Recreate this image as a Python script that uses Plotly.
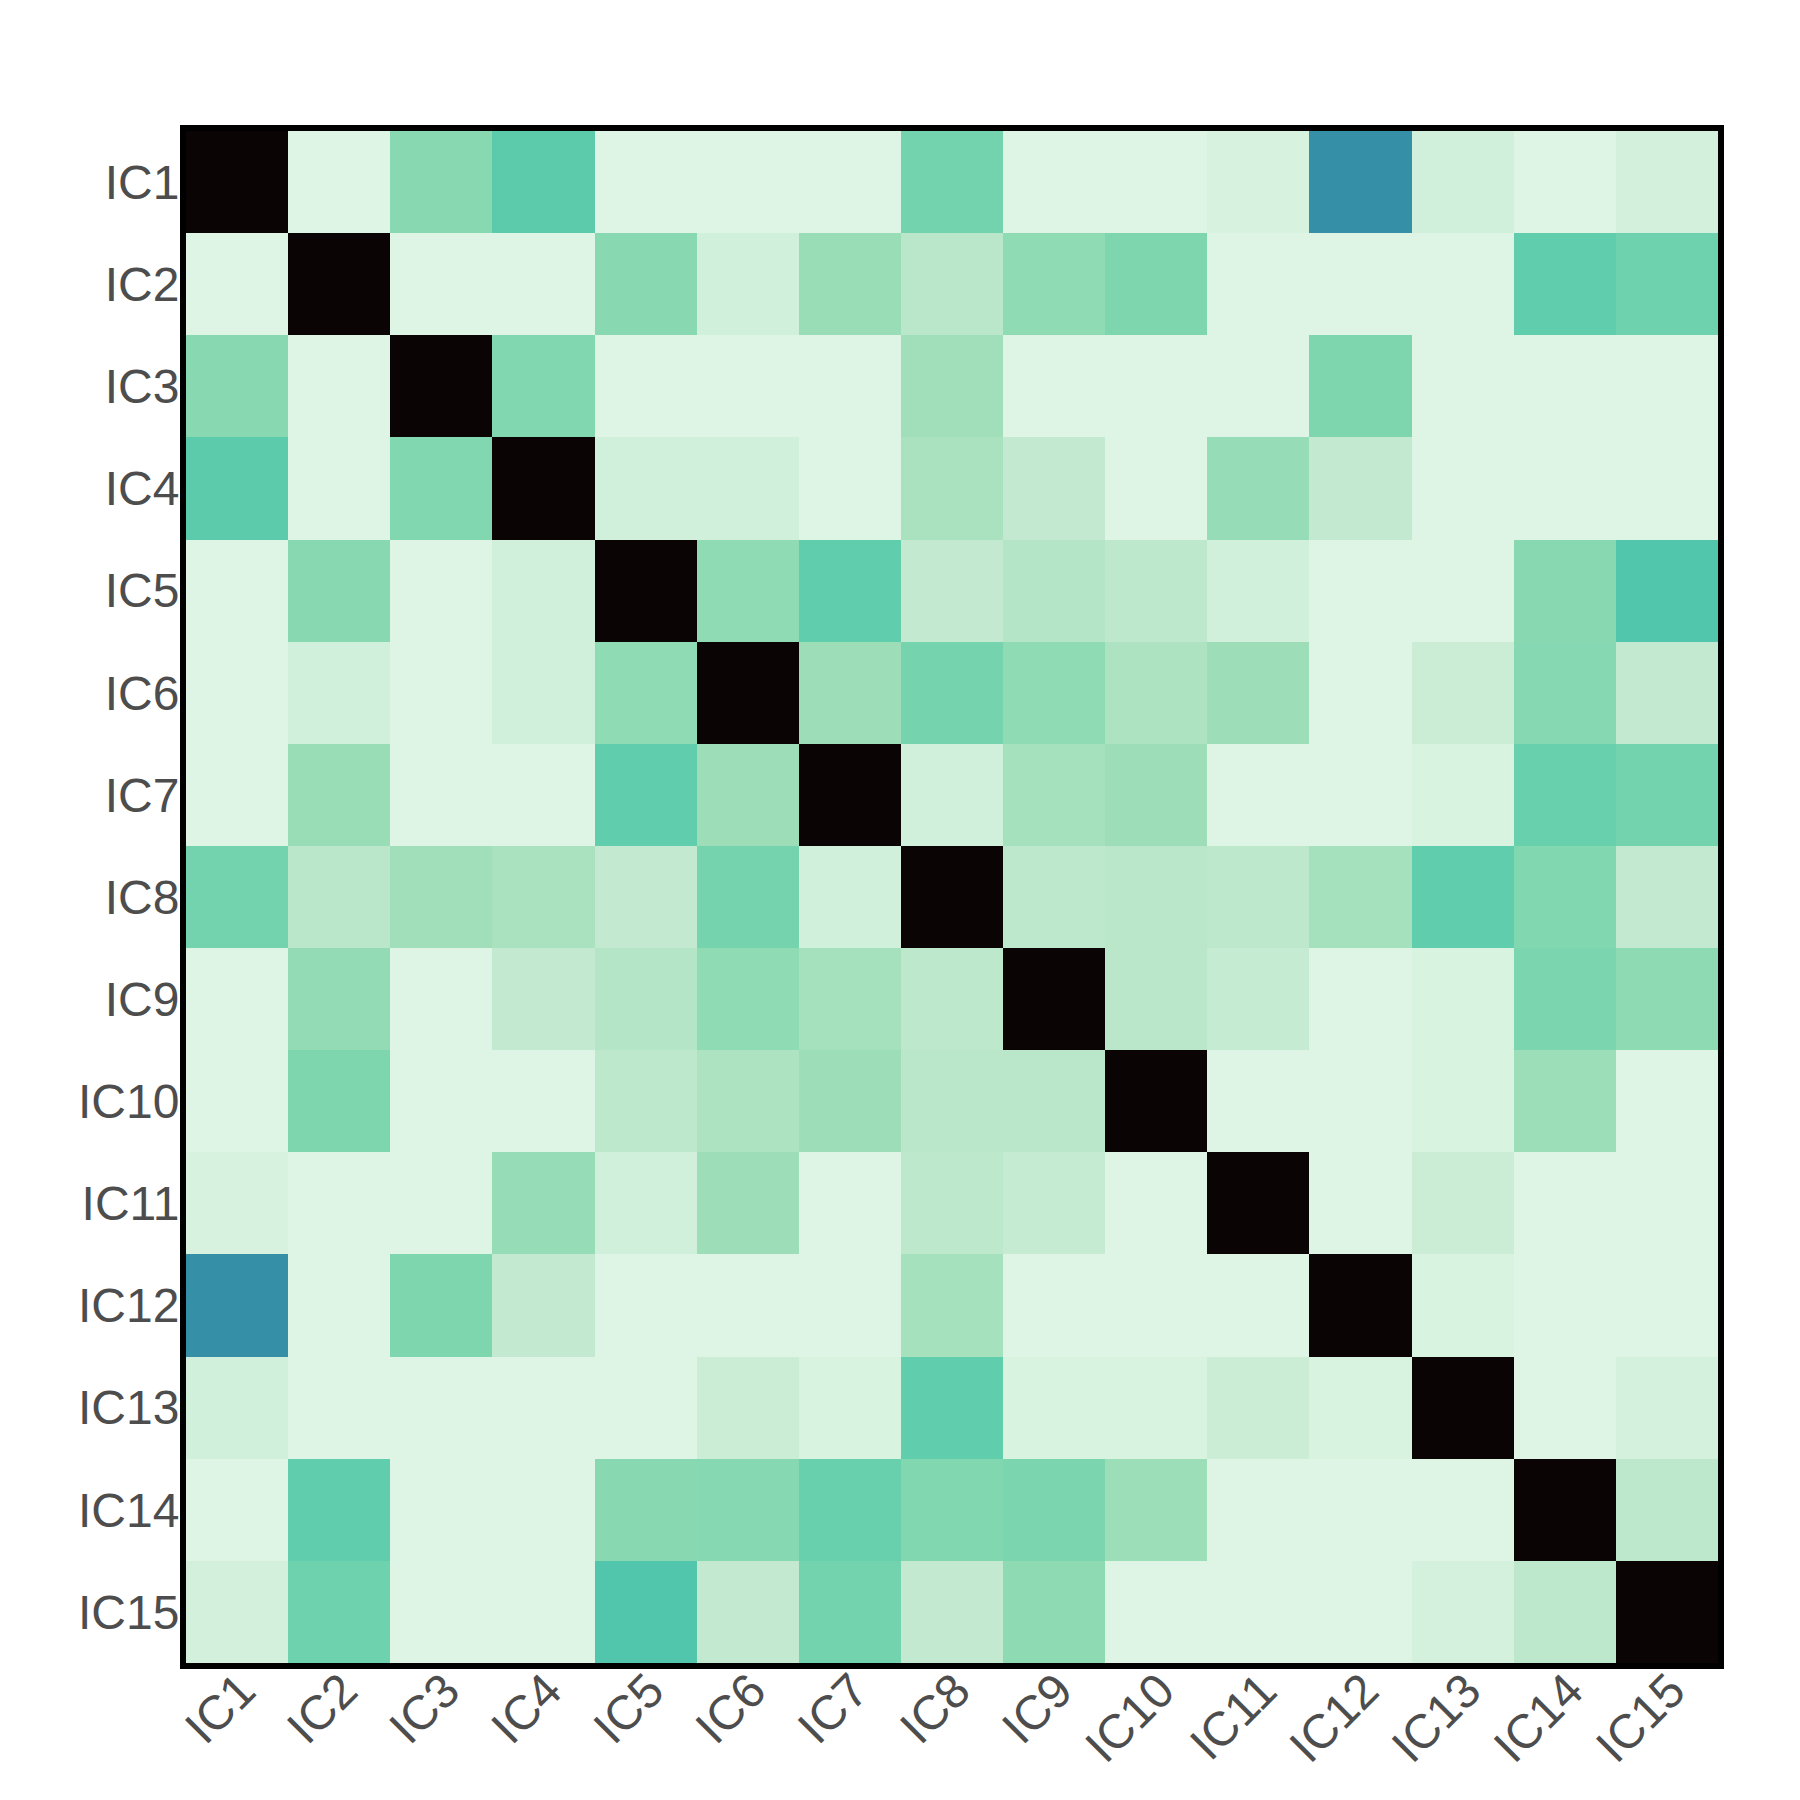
import plotly.graph_objects as go

labels = [f"IC{i}" for i in range(1, 16)]

# |correlation| between components, rows IC1..IC15
ic1 = [1.0, 0.0, 0.135, 0.21, 0.0, 0.0, 0.0, 0.17, 0.0, 0.0, 0.012, 0.43, 0.022, 0.0, 0.02]
ic2 = [0.0, 1.0, 0.0, 0.0, 0.135, 0.022, 0.11, 0.06, 0.125, 0.15, 0.0, 0.0, 0.0, 0.2, 0.175]
ic3 = [0.135, 0.0, 1.0, 0.145, 0.0, 0.0, 0.0, 0.1, 0.0, 0.0, 0.0, 0.15, 0.0, 0.0, 0.0]
ic4 = [0.21, 0.0, 0.145, 1.0, 0.022, 0.022, 0.0, 0.085, 0.045, 0.0, 0.115, 0.045, 0.0, 0.0, 0.0]
ic5 = [0.0, 0.135, 0.0, 0.022, 1.0, 0.125, 0.2, 0.045, 0.07, 0.055, 0.022, 0.0, 0.0, 0.135, 0.23]
ic6 = [0.0, 0.022, 0.0, 0.022, 0.125, 1.0, 0.105, 0.165, 0.125, 0.08, 0.105, 0.0, 0.032, 0.14, 0.045]
ic7 = [0.0, 0.11, 0.0, 0.0, 0.2, 0.105, 1.0, 0.022, 0.09, 0.105, 0.0, 0.0, 0.008, 0.185, 0.17]
ic8 = [0.17, 0.06, 0.1, 0.085, 0.045, 0.165, 0.022, 1.0, 0.055, 0.06, 0.055, 0.09, 0.2, 0.145, 0.045]
ic9 = [0.0, 0.12, 0.0, 0.045, 0.07, 0.125, 0.09, 0.055, 1.0, 0.06, 0.04, 0.0, 0.008, 0.155, 0.128]
ic10 = [0.0, 0.15, 0.0, 0.0, 0.055, 0.08, 0.105, 0.06, 0.06, 1.0, 0.0, 0.0, 0.01, 0.108, 0.0]
ic11 = [0.012, 0.0, 0.0, 0.115, 0.022, 0.105, 0.0, 0.055, 0.04, 0.0, 1.0, 0.0, 0.032, 0.0, 0.0]
ic12 = [0.43, 0.0, 0.15, 0.045, 0.0, 0.0, 0.0, 0.09, 0.0, 0.0, 0.0, 1.0, 0.008, 0.0, 0.0]
ic13 = [0.022, 0.0, 0.0, 0.0, 0.0, 0.032, 0.008, 0.2, 0.008, 0.01, 0.032, 0.008, 1.0, 0.0, 0.016]
ic14 = [0.0, 0.2, 0.0, 0.0, 0.135, 0.14, 0.185, 0.145, 0.155, 0.108, 0.0, 0.0, 0.0, 1.0, 0.055]
ic15 = [0.02, 0.175, 0.0, 0.0, 0.23, 0.045, 0.17, 0.045, 0.128, 0.0, 0.0, 0.0, 0.016, 0.055, 1.0]

corr = [ic1, ic2, ic3, ic4, ic5, ic6, ic7, ic8, ic9, ic10, ic11, ic12, ic13, ic14, ic15]

# reversed "mako"-like scale
mako_r = [
    [0.0, "#DEF5E5"],
    [0.05, "#C0E9CE"],
    [0.10, "#A0DFB9"],
    [0.15, "#7ED6AF"],
    [0.20, "#60CEAC"],
    [0.25, "#49C1AD"],
    [0.40, "#3497A9"],
    [0.50, "#357BA2"],
    [0.60, "#395D9C"],
    [0.75, "#3E356B"],
    [0.80, "#382A54"],
    [1.0, "#0B0405"],
]

fig = go.Figure(go.Heatmap(
    z=corr, x=labels, y=labels,
    colorscale=mako_r, zmin=0, zmax=1, showscale=False,
))

tick_font = dict(family="Liberation Sans, Arial, sans-serif", size=48, color="#4d4d4d")
fig.update_xaxes(showline=True, mirror=True, linewidth=6, linecolor="black",
                 tickangle=-45, tickfont=tick_font, ticks="", showgrid=False,
                 ticklabelstandoff=-26, ticklabelshift=4, automargin=False)
fig.update_yaxes(showline=True, mirror=True, linewidth=6, linecolor="black",
                 autorange="reversed", tickfont=tick_font, ticks="", showgrid=False,
                 ticklabelstandoff=-9, automargin=False)
# page body adds an 8px offset, margins compensate for it
fig.update_layout(
    width=1800, height=1800,
    margin=dict(l=178, r=90, t=123, b=145, pad=0),
    plot_bgcolor="white", paper_bgcolor="white",
)
fig.write_html("out.html")
